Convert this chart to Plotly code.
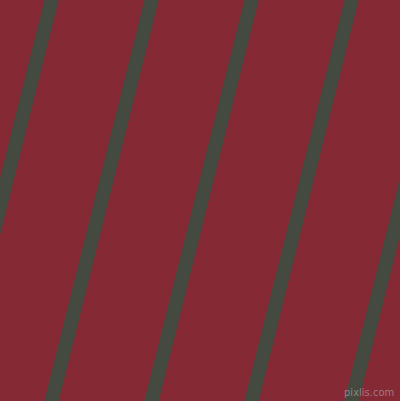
import numpy as np
import plotly.graph_objects as go

# stripe centre x (px) where each stripe meets the top edge (y=0) and bottom edge (y=401)
top_x = [51.5, 151.5, 251.5, 351.5, 451.5]
bottom_x = [-48.5, 51.5, 151.5, 251.5, 351.5]
y_top = 0
y_bottom = 401

bg_color = "#852934"
stripe_color = "#444A40"

fig = go.Figure()
for xt, xb in zip(top_x, bottom_x):
    # carry the line a little past the frame so the ends are not visible
    slope = (xb - xt) / (y_bottom - y_top)
    ys = np.array([y_top - 20, y_bottom + 20])
    xs = xt + slope * (ys - y_top)
    fig.add_trace(go.Scatter(x=xs, y=ys, mode="lines",
                             line=dict(color=stripe_color, width=14),
                             hoverinfo="skip", showlegend=False))

fig.add_annotation(text="pixlis.com", x=1, y=0, xref="paper", yref="paper",
                   xanchor="right", yanchor="bottom", xshift=-4, yshift=1,
                   showarrow=False,
                   font=dict(family="DejaVu Sans", size=10, color="rgba(190,190,190,0.55)"))

fig.update_xaxes(range=[0, 400], visible=False, fixedrange=True)
fig.update_yaxes(range=[401, 0], visible=False, fixedrange=True)
fig.update_layout(width=400, height=401, margin=dict(l=0, r=0, t=0, b=0),
                  paper_bgcolor=bg_color, plot_bgcolor=bg_color)

fig.write_html("out.html", config={"displayModeBar": False},
               post_script="document.body.style.margin='0';document.body.style.overflow='hidden';")
